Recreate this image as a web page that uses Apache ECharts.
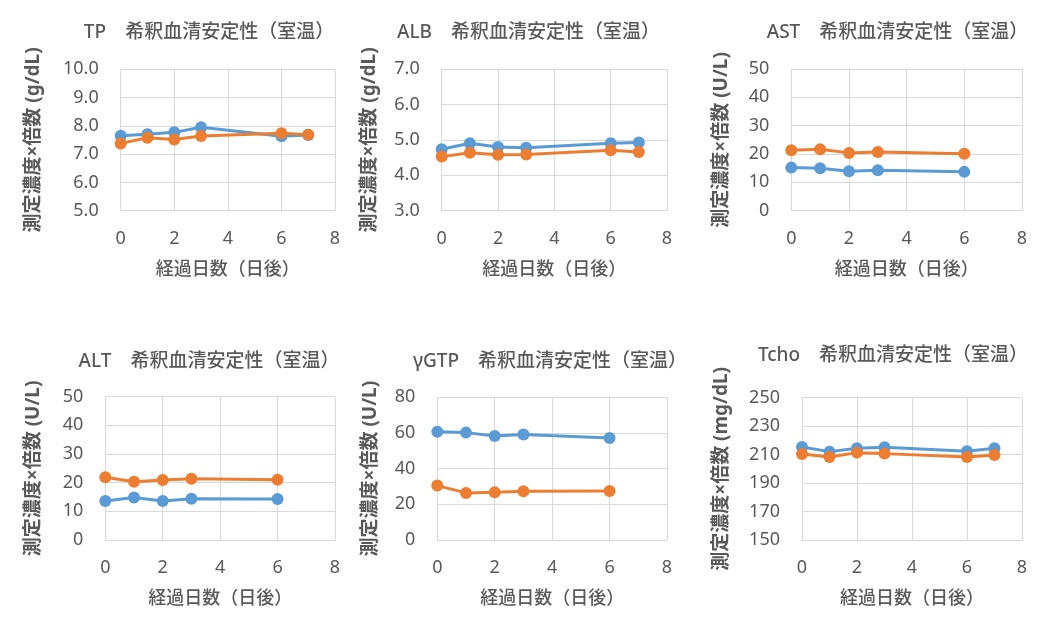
<!DOCTYPE html>
<html>
<head>
<meta charset="utf-8">
<script src="https://cdn.jsdelivr.net/npm/echarts@6/dist/echarts.min.js"></script>
<style>
html,body{margin:0;padding:0;background:#fff;}
#c{width:1053px;height:638px;}
</style>
</head>
<body>
<div id="c"></div>
<script>
// ---- data ----
const daysA = [0, 1, 2, 3, 6, 7];
const daysB = [0, 1, 2, 3, 6];
const xTicks = [0, 2, 4, 6, 8];

const tpBlue   = [7.65, 7.70, 7.77, 7.95, 7.63, 7.68];
const tpOrange = [7.38, 7.58, 7.52, 7.64, 7.74, 7.69];
const albBlue   = [4.74, 4.91, 4.80, 4.78, 4.91, 4.93];
const albOrange = [4.53, 4.64, 4.58, 4.59, 4.71, 4.66];
const astBlue   = [15.2, 15.0, 13.9, 14.3, 13.7];
const astOrange = [21.3, 21.7, 20.4, 20.7, 20.1];
const altBlue   = [13.6, 14.8, 13.6, 14.4, 14.3];
const altOrange = [21.9, 20.3, 20.9, 21.4, 21.0];
const gtpBlue   = [60.7, 60.2, 58.3, 59.1, 57.2];
const gtpOrange = [30.5, 26.4, 26.7, 27.3, 27.5];
const tchoBlue   = [215.3, 212.1, 214.4, 215.1, 212.3, 214.4];
const tchoOrange = [210.4, 208.3, 211.4, 210.7, 208.3, 209.7];

const analytes = ['TP', 'ALB', 'AST', 'ALT', 'γGTP', 'Tcho'];
const titleSuffix = '希釈血清安定性（室温）';
const units = ['(g/dL)', '(g/dL)', '(U/L)', '(U/L)', '(U/L)', '(mg/dL)'];
const yName = '測定濃度×倍数';
const xName = '経過日数（日後）';
const yMin = [5, 3, 0, 0, 0, 150];
const yMax = [10, 7, 50, 50, 80, 250];
const yStep = [1, 1, 10, 10, 20, 20];
const yDecimals = [1, 1, 0, 0, 0, 0];

// ---- layout (pixels) ----
const panels = [
  {days: daysA, blue: tpBlue, orange: tpOrange, grid: [120.7, 69.3, 214.3, 141.4], title: [204, 18], yGap: 78},
  {days: daysA, blue: albBlue, orange: albOrange, grid: [441.7, 69.3, 225.3, 141.4], title: [523.5, 18], yGap: 63},
  {days: daysB, blue: astBlue, orange: astOrange, grid: [791.3, 69, 230.7, 141.7], title: [892.5, 18], yGap: 60},
  {days: daysB, blue: altBlue, orange: altOrange, grid: [105.3, 396.7, 229.7, 143.3], title: [204, 347], yGap: 62},
  {days: daysB, blue: gtpBlue, orange: gtpOrange, grid: [437.3, 397.3, 229.7, 142.7], title: [545, 347], yGap: 57},
  {days: daysA, blue: tchoBlue, orange: tchoOrange, grid: [802, 397.7, 220, 142.3], title: [888, 341], yGap: 71}
];

const FONT = "'Noto Sans', 'Noto Sans CJK JP', sans-serif";
const TXT = '#595959';
const GRIDC = '#d9d9d9';

const option = {
  backgroundColor: '#ffffff',
  animation: false,
  title: [], grid: [], xAxis: [], yAxis: [], series: []
};

panels.forEach((p, i) => {
  option.title.push({
    text: analytes[i] + '　' + titleSuffix,
    left: p.title[0], top: p.title[1], textAlign: 'center',
    textStyle: {fontFamily: FONT, fontSize: 19, fontWeight: 500, color: TXT}
  });
  option.grid.push({left: p.grid[0], top: p.grid[1], width: p.grid[2], height: p.grid[3], containLabel: false});
  option.xAxis.push({
    type: 'value', gridIndex: i, min: xTicks[0], max: xTicks[xTicks.length - 1], interval: xTicks[1] - xTicks[0],
    name: xName, nameLocation: 'middle', nameGap: 50,
    nameTextStyle: {fontFamily: FONT, fontSize: 18, fontWeight: 500, color: TXT},
    axisLine: {show: true, lineStyle: {color: GRIDC, width: 1}},
    axisTick: {show: false},
    axisLabel: {fontFamily: FONT, fontSize: 18, color: TXT, margin: 19},
    splitLine: {show: true, lineStyle: {color: GRIDC, width: 1}}
  });
  option.yAxis.push({
    type: 'value', gridIndex: i, min: yMin[i], max: yMax[i], interval: yStep[i],
    name: yName + ' ' + units[i], nameLocation: 'middle', nameGap: p.yGap, nameRotate: 90,
    nameTextStyle: {fontFamily: FONT, fontSize: 19, fontWeight: 'bold', color: TXT},
    axisLine: {show: true, lineStyle: {color: GRIDC, width: 1}},
    axisTick: {show: false},
    axisLabel: {fontFamily: FONT, fontSize: 18, color: TXT, margin: 22,
      formatter: v => v.toFixed(yDecimals[i])},
    splitLine: {show: true, lineStyle: {color: GRIDC, width: 1}}
  });
  [['blue', '#5B9BD5'], ['orange', '#ED7D31']].forEach(([k, col]) => {
    option.series.push({
      type: 'line', xAxisIndex: i, yAxisIndex: i,
      data: p.days.map((d, j) => [d, p[k][j]]),
      symbol: 'circle', symbolSize: 12,
      lineStyle: {color: col, width: 3},
      itemStyle: {color: col},
      emphasis: {disabled: true}
    });
  });
});

const chart = echarts.init(document.getElementById('c'), null, {renderer: 'canvas'});
chart.setOption(option);
</script>
</body>
</html>
